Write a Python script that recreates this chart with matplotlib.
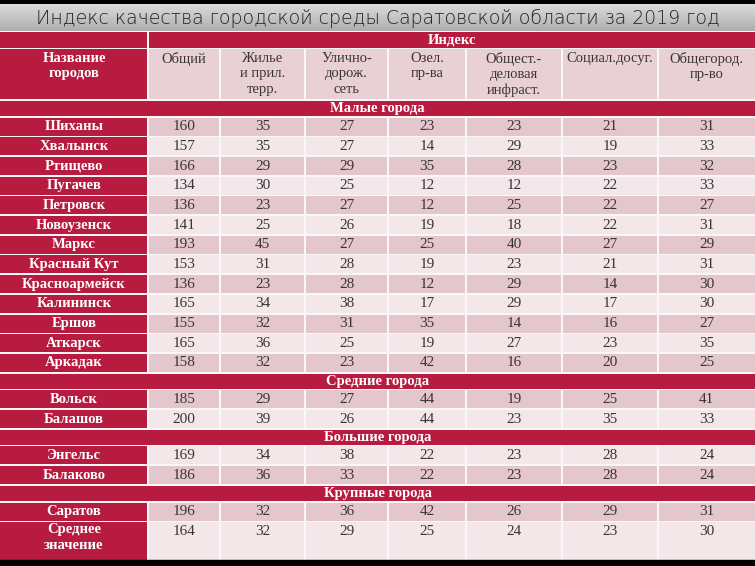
import numpy as np
import matplotlib.pyplot as plt
from matplotlib.patches import Rectangle

# --- data ---
title = 'Индекс качества городской среды Саратовской области за 2019 год'
index_label = 'Индекс'
name_header = 'Название\nгородов'
columns = ['Общий', 'Жилье\nи прил.\nтерр.', 'Улично-\nдорож.\nсеть', 'Озел.\nпр-ва',
           'Общест.-\nделовая\nинфраст.', 'Социал.досуг.', 'Общегород.\nпр-во']

small_label = 'Малые города'
small_towns = ['Шиханы', 'Хвалынск', 'Ртищево', 'Пугачев', 'Петровск', 'Новоузенск', 'Маркс',
               'Красный Кут', 'Красноармейск', 'Калининск', 'Ершов', 'Аткарск', 'Аркадак']
small_values = [[160, 35, 27, 23, 23, 21, 31],
                [157, 35, 27, 14, 29, 19, 33],
                [166, 29, 29, 35, 28, 23, 32],
                [134, 30, 25, 12, 12, 22, 33],
                [136, 23, 27, 12, 25, 22, 27],
                [141, 25, 26, 19, 18, 22, 31],
                [193, 45, 27, 25, 40, 27, 29],
                [153, 31, 28, 19, 23, 21, 31],
                [136, 23, 28, 12, 29, 14, 30],
                [165, 34, 38, 17, 29, 17, 30],
                [155, 32, 31, 35, 14, 16, 27],
                [165, 36, 25, 19, 27, 23, 35],
                [158, 32, 23, 42, 16, 20, 25]]

medium_label = 'Средние города'
medium_towns = ['Вольск', 'Балашов']
medium_values = [[185, 29, 27, 44, 19, 25, 41],
                 [200, 39, 26, 44, 23, 35, 33]]

large_label = 'Большие города'
large_towns = ['Энгельс', 'Балаково']
large_values = [[169, 34, 38, 22, 23, 28, 24],
                [186, 36, 33, 22, 23, 28, 24]]

biggest_label = 'Крупные города'
biggest_towns = ['Саратов', 'Среднее\nзначение']
biggest_values = [[196, 32, 36, 42, 26, 29, 31],
                  [164, 32, 29, 25, 24, 23, 30]]

# --- style / layout ---
W, H = 755, 566
crimson = '#B71B40'
dark_row = '#E4C7CD'
light_row = '#F3E7E9'
head_bg = '#E9D0D5'
txt = '#3a3535'
serif = 'Liberation Serif'
col_edges = [0, 148, 220, 305, 388, 466, 562, 658, 755]
gap = 1.7
data_h = 18.0
group_h = 15.0

groups = [(small_label, small_towns, small_values, [1, 0] * 6 + [1], [data_h] * 13),
          (medium_label, medium_towns, medium_values, [1, 0], [data_h] * 2),
          (large_label, large_towns, large_values, [0, 1], [data_h] * 2),
          (biggest_label, biggest_towns, biggest_values, [1, 0], [data_h, 37.7])]

fig = plt.figure(figsize=(W / 100, H / 100), dpi=100)
fig.patch.set_facecolor('#FBF6F7')
ax = fig.add_axes([0, 0, 1, 1])
ax.set_xlim(0, W)
ax.set_ylim(H, 0)
ax.axis('off')

# black bands and title bar
ax.add_patch(Rectangle((0, 0), W, 4, color='black', zorder=1))
ax.add_patch(Rectangle((0, 560), W, 6, color='black', zorder=5))
grad = np.linspace(0.86, 0.68, 50).reshape(-1, 1)
ax.imshow(grad, extent=(0, W, 31, 4), cmap='gray', vmin=0, vmax=1, aspect='auto', zorder=1)
ax.text(W / 2, 18, title, ha='center', va='center', fontsize=13.6, color='#222222',
        family='DejaVu Sans', weight='light', zorder=3)


def cell(x0, x1, y, h, color):
    l = x0 + (gap / 2 if x0 > 0 else 0)
    r = x1 - (gap / 2 if x1 < W else 0)
    ax.add_patch(Rectangle((l, y), r - l, h, color=color, lw=0, zorder=2))


# Индекс row
y = 32
cell(col_edges[0], col_edges[1], y, 15.5, crimson)
cell(col_edges[1], W, y, 15.5, crimson)
ax.text((col_edges[1] + W) / 2, y + 8, index_label, ha='center', va='center', fontsize=10.5,
        color='white', weight='bold', family=serif, zorder=3)
y += 15.5 + gap

# header row
hh = 50
cell(col_edges[0], col_edges[1], y, hh, crimson)
ax.text(col_edges[1] / 2, y + 2.5, name_header, ha='center', va='top', fontsize=10.5,
        color='white', weight='bold', family=serif, linespacing=1.25, zorder=3)
for j, c in enumerate(columns):
    x0, x1 = col_edges[j + 1], col_edges[j + 2]
    cell(x0, x1, y, hh, head_bg)
    ax.text((x0 + x1) / 2, y + 2.5, c, ha='center', va='top', fontsize=10.5, color=txt,
            family=serif, linespacing=1.25, zorder=3)
y += hh + gap

for label, towns, vals, shade, heights in groups:
    cell(0, W, y, group_h, crimson)
    ax.text(W / 2, y + group_h / 2, label, ha='center', va='center', fontsize=10.5,
            color='white', weight='bold', family=serif, zorder=3)
    y += group_h + gap
    for town, row, s, h in zip(towns, vals, shade, heights):
        cell(col_edges[0], col_edges[1], y, h, crimson)
        cy = y + data_h / 2
        ax.text(col_edges[1] / 2, y + 1 if '\n' in town else cy, town, ha='center',
                va='top' if '\n' in town else 'center', fontsize=10.5, color='white',
                weight='bold', family=serif, linespacing=1.25, zorder=3)
        for j, v in enumerate(row):
            x0, x1 = col_edges[j + 1], col_edges[j + 2]
            cell(x0, x1, y, h, dark_row if s else light_row)
            ax.text((x0 + x1) / 2, cy, str(v), ha='center', va='center', fontsize=11,
                    color=txt, family=serif, zorder=3)
        y += h + gap

fig.savefig('out.png', dpi=100, facecolor=fig.get_facecolor())
